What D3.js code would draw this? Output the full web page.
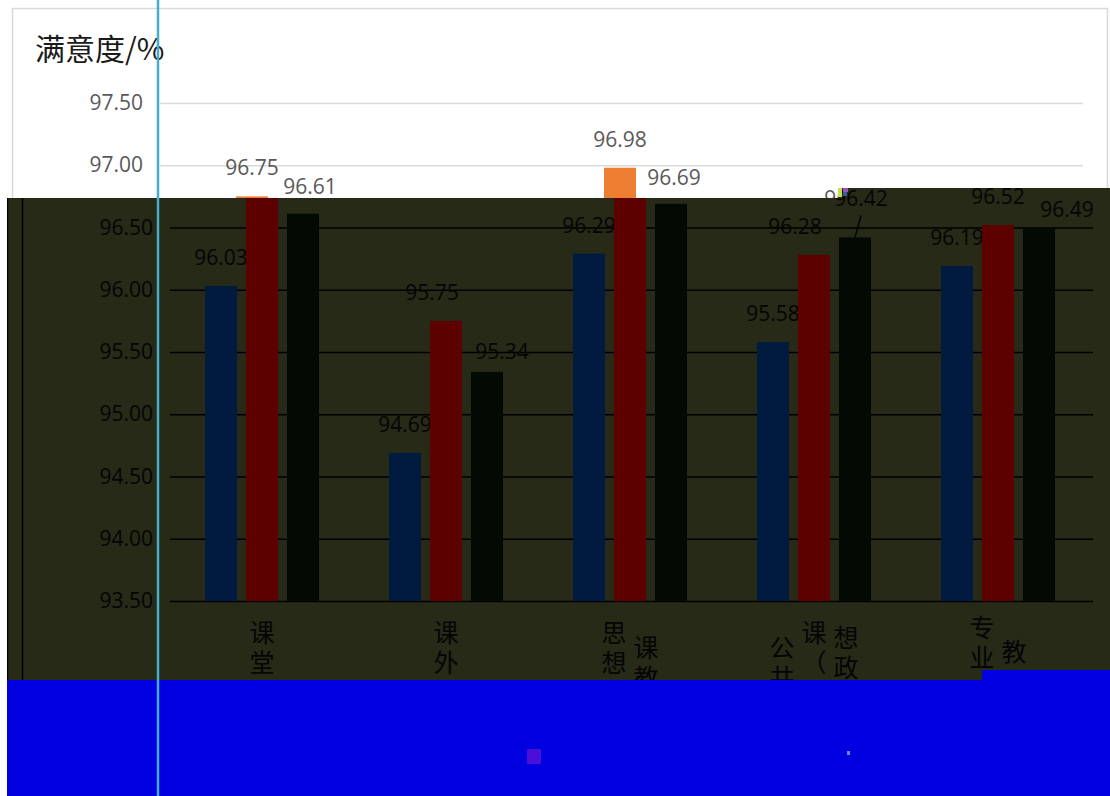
<!DOCTYPE html>
<meta charset="utf-8">
<script src="https://d3js.org/d3.v7.min.js"></script>
<style>
  body { margin: 0; background: #fff; }
</style>
<div id="chart"></div>
<script>
// data
var labelColumns = [["课堂教学"], ["课外教学"], ["思想政治", "课教学"], ["公共", "课（思", "想政治理论课）"], ["专业", "教学"]];
var categories = labelColumns.map(function(c) { return c.join(""); });
var series1 = [96.03, 94.69, 96.29, 95.58, 96.19];
var series2 = [96.75, 95.75, 96.98, 96.28, 96.52];
var series3 = [96.61, 95.34, 96.69, 96.42, 96.49];
var yTicks = [93.5, 94, 94.5, 95, 95.5, 96, 96.5, 97, 97.5];
var yTitle = "满意度/%";

// label nudges (layout only): [dx, dy] per series, per category
var nudge = [
  [[0, 0], [0, 0], [0, 0], [0, 0], [0, 0]],
  [[0, 0], [-14, 0], [0, 0], [-19, 0], [0, 0]],
  [[17, 1], [15, 8], [13, 2], [6, -10], [28, 9]]
];
var colDrop = [[0], [0], [0, 15], [15, 0, 5], [-5, 19]];

var W = 1110, H = 796;
var svg = d3.select("#chart").append("svg").attr("width", W).attr("height", H);

var x0 = d3.scaleBand().domain(categories).range([160, 1080]);
var x1 = d3.scaleBand().domain([0, 1, 2]).range([-57, 57]).paddingInner(0.22);
var y = d3.scaleLinear().domain([93.5, 97.5]).range([601, 103]);
var allSeries = [series1, series2, series3];

// top edge of the dark band (it steps up on the right) and of the blue block
function bandTop(x) { return x >= 838 ? 188 : 198; }
function blueTop(x) { return x >= 982 ? 670 : 680; }

function drawChart(g, pal) {
  g.append("rect").attr("x", 12.5).attr("y", 8.5).attr("width", 1095).attr("height", 900)
    .attr("fill", pal.bg).attr("stroke", pal.border).attr("stroke-width", 1.5);

  g.append("text").attr("x", 35).attr("y", 60).attr("fill", pal.title)
    .style("font-family", "'Noto Sans CJK SC'").style("font-size", "30px").text(yTitle);

  var yAxis = g.append("g").attr("transform", "translate(160,0)")
    .call(d3.axisLeft(y).tickValues(yTicks).tickSize(-923).tickPadding(17).tickFormat(d3.format(".2f")));
  yAxis.select(".domain").remove();
  yAxis.selectAll(".tick line").attr("stroke", pal.grid).attr("stroke-width", 1.5);
  yAxis.selectAll(".tick text").attr("fill", pal.text)
    .style("font-family", "'Open Sans'").style("font-size", "21px");

  allSeries.forEach(function(vals, s) {
    g.append("g").selectAll("rect").data(vals).enter().append("rect")
      .attr("x", function(d, i) { return x0(categories[i]) + x0.bandwidth() / 2 + x1(s); })
      .attr("y", function(d) { return y(d); })
      .attr("width", x1.bandwidth())
      .attr("height", function(d) { return y(93.5) - y(d); })
      .attr("fill", pal.bars[s]);

    g.append("g").selectAll("text").data(vals).enter().append("text")
      .attr("x", function(d, i) { return x0(categories[i]) + x0.bandwidth() / 2 + x1(s) + x1.bandwidth() / 2 + nudge[s][i][0]; })
      .attr("y", function(d, i) { return y(d) - 21 + nudge[s][i][1]; })
      .attr("text-anchor", "middle").attr("fill", pal.text)
      .style("font-family", "'Open Sans'").style("font-size", "21px")
      .text(function(d) { return d3.format(".2f")(d); });

    // leader lines for labels pushed upward
    vals.forEach(function(d, i) {
      if (nudge[s][i][1] < -5) {
        var cx = x0(categories[i]) + x0.bandwidth() / 2 + x1(s) + x1.bandwidth() / 2;
        g.append("line").attr("x1", cx).attr("y1", y(d))
          .attr("x2", cx + 6).attr("y2", y(d) - 22)
          .attr("stroke", pal.text).attr("stroke-width", 1.5);
      }
    });
  });

  // stacked vertical category labels
  labelColumns.forEach(function(cols, i) {
    var cx = x0(categories[i]) + x0.bandwidth() / 2;
    cols.forEach(function(col, k) {
      var colX = cx + (k - (cols.length - 1) / 2) * 32;
      col.split("").forEach(function(ch, j) {
        g.append("text").attr("x", colX).attr("y", 633 + colDrop[i][k] + j * 30 + 9)
          .attr("text-anchor", "middle").attr("fill", pal.title)
          .style("font-family", "'Noto Sans CJK SC'").style("font-size", "25px").text(ch);
      });
    });
  });
}

// drop texts that are fully hidden in this layer
function prune(g, keep) {
  g.selectAll("text").each(function() {
    var b = this.getBoundingClientRect();
    if (!keep(b.left, b.top, b.right, b.bottom)) d3.select(this).remove();
  });
}

// plain chart
var plain = svg.append("g");
drawChart(plain, {
  bg: "#ffffff", border: "#d9d9d9", grid: "#d9d9d9", text: "#595959", title: "#1a1a1a",
  bars: ["#4472c4", "#ed7d31", "#a5a5a5"]
});
prune(plain, function(l, t, r, b) {
  return t + 8 < Math.max(bandTop(l), bandTop(r));
});

// dark shifted band over the middle
svg.append("clipPath").attr("id", "band").append("path")
  .attr("d", "M7,198H838V188H" + W + "V670H982V680H7Z");
var band = svg.append("g").attr("clip-path", "url(#band)");
band.append("rect").attr("x", 7).attr("y", 188).attr("width", W - 7).attr("height", 492).attr("fill", "#262a17");
var shifted = band.append("g").attr("transform", "translate(10,0)");
drawChart(shifted, {
  bg: "#262a17", border: "#000000", grid: "#000000", text: "#050505", title: "#050505",
  bars: ["#001a40", "#5c0000", "#030a03"]
});
prune(shifted, function(l, t, r, b) {
  return b - 5 > Math.min(bandTop(l), bandTop(r)) && t < Math.max(blueTop(l), blueTop(r));
});
band.append("line").attr("x1", 7.5).attr("x2", 7.5).attr("y1", 198).attr("y2", 680)
  .attr("stroke", "#000").attr("stroke-width", 1.5);

// small broken pixels at the step
svg.append("rect").attr("x", 838).attr("y", 188).attr("width", 4).attr("height", 9).attr("fill", "#c8e050");
svg.append("rect").attr("x", 843).attr("y", 188).attr("width", 5).attr("height", 4).attr("fill", "#9a50c0");
svg.append("rect").attr("x", 843).attr("y", 192).attr("width", 4).attr("height", 4).attr("fill", "#3060a0");

// blue block at the bottom
svg.append("rect").attr("x", 7).attr("y", 680).attr("width", W - 7).attr("height", H - 680).attr("fill", "#0000e0");
svg.append("rect").attr("x", 982).attr("y", 670).attr("width", W - 982).attr("height", 10).attr("fill", "#0000e0");
svg.append("rect").attr("x", 527).attr("y", 749).attr("width", 14).attr("height", 15).attr("fill", "#4a10d8");
svg.append("rect").attr("x", 847).attr("y", 751).attr("width", 3).attr("height", 4).attr("fill", "#6a8ae8");

// cyan vertical line
svg.append("line").attr("x1", 158).attr("x2", 158).attr("y1", 0).attr("y2", H)
  .attr("stroke", "#4aaccc").attr("stroke-width", 2.5);
</script>
